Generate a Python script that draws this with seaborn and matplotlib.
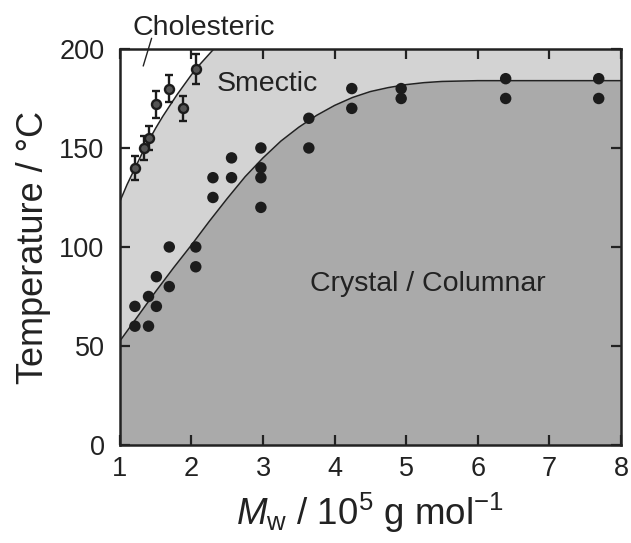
import matplotlib
matplotlib.use("Agg")
import matplotlib.pyplot as plt
import pandas as pd
import seaborn as sns

# crystal/columnar -> smectic transition points (filled dots)
mw_dots = [1.21, 1.21, 1.40, 1.40, 1.51, 1.51, 1.69, 1.69, 2.06, 2.06,
           2.30, 2.30, 2.56, 2.56, 2.97, 2.97, 2.97, 2.97, 3.64, 3.64,
           4.24, 4.24, 4.93, 4.93, 6.39, 6.39, 7.69, 7.69]
t_dots = [60, 70, 60, 75, 70, 85, 80, 100, 90, 100,
          125, 135, 135, 145, 120, 135, 140, 150, 150, 165,
          170, 180, 175, 180, 175, 185, 175, 185]

# smectic -> cholesteric transition points (with error bars)
mw_chol = [1.21, 1.34, 1.40, 1.51, 1.68, 1.88, 2.07]
t_chol = [140, 150, 155, 172, 180, 170, 190]
t_chol_err = [6, 6, 6, 7, 7, 6.5, 7.5]

# phase boundaries
mw_cryst_line = [1.0, 1.25, 1.5, 1.75, 2.0, 2.25, 2.5, 2.75, 3.0, 3.25, 3.5,
                 3.75, 4.0, 4.25, 4.5, 4.75, 5.0, 5.25, 5.5, 6.0, 7.0, 8.0]
t_cryst_line = [52.5, 65, 77.5, 89.5, 101, 113, 124.5, 135.5, 145, 153.5, 160.5,
                166.5, 171.5, 175.5, 178.5, 180.5, 182, 183, 183.6, 184, 184, 184]
mw_chol_line = [1.0, 1.1, 1.2, 1.3, 1.4, 1.5, 1.6, 1.7, 1.8, 1.9, 2.0, 2.1, 2.2, 2.3, 2.4]
t_chol_line = [123, 131.5, 139, 146.5, 153.5, 160, 166, 171.5, 177, 182, 187, 191.5, 195.5, 199.5, 203]


def main() -> None:
    sns.set_theme(style="ticks")
    plt.rcParams["font.family"] = ["Liberation Sans", "DejaVu Sans"]
    plt.rcParams["mathtext.fontset"] = "custom"
    plt.rcParams["mathtext.rm"] = "Liberation Sans"
    plt.rcParams["mathtext.it"] = "Liberation Sans:italic"

    dots = pd.DataFrame({"mw": mw_dots, "t": t_dots})
    cryst = pd.DataFrame({"mw": mw_cryst_line, "t": t_cryst_line})
    chol = pd.DataFrame({"mw": mw_chol_line, "t": t_chol_line})

    fig = plt.figure(figsize=(6.31, 5.43), dpi=100)
    ax = fig.add_axes([0.190, 0.1805, 0.794, 0.7293])
    ax.set_axisbelow(False)

    # phase regions
    ax.set_facecolor("#d3d3d3")
    ax.fill_between(chol["mw"], chol["t"], 260, color="white", lw=0, zorder=0.5)
    ax.fill_between(cryst["mw"], -10, cryst["t"], color="#aaaaaa", lw=0, zorder=0.6)

    sns.lineplot(data=cryst, x="mw", y="t", color="#222222", lw=1.1,
                 sort=False, estimator=None, ax=ax, zorder=2)
    sns.lineplot(data=chol, x="mw", y="t", color="#222222", lw=1.1,
                 sort=False, estimator=None, ax=ax, zorder=2)

    sns.scatterplot(data=dots, x="mw", y="t", color="#1c1c1c", s=68,
                    edgecolor="none", ax=ax, zorder=3)

    ax.errorbar(mw_chol, t_chol, yerr=t_chol_err, fmt="o", ms=6.5,
                mfc="#555555", mec="#1c1c1c", mew=1.7, ecolor="#1c1c1c",
                elinewidth=1.7, capsize=3.2, capthick=1.7, zorder=4)

    ax.text(1.17, 207, "Cholesteric", fontsize=20.5, color="#222222",
            ha="left", va="baseline", clip_on=False)
    ax.plot([1.443, 1.326], [205.4, 191.4], color="#222222", lw=1.0, clip_on=False)
    ax.text(2.35, 179, "Smectic", fontsize=20.5, color="#222222",
            ha="left", va="baseline")
    ax.text(3.65, 78, "Crystal / Columnar", fontsize=20.5, color="#222222",
            ha="left", va="baseline")

    ax.set_xlim(1, 8)
    ax.set_ylim(0, 200)
    ax.set_xticks(range(1, 9))
    ax.set_yticks([0, 50, 100, 150, 200])
    ax.tick_params(direction="in", length=7.5, width=1.6, top=True, right=True,
                   labelsize=19.5, colors="#222222")
    ax.tick_params(axis="x", pad=8)
    ax.tick_params(axis="y", pad=11)
    for sp in ax.spines.values():
        sp.set_linewidth(1.8)
        sp.set_color("#222222")
        sp.set_zorder(5)

    ax.set_xlabel(r"$M_\mathrm{w}$ / 10$^5$ g mol$^{\mathrm{-1}}$", fontsize=26.5,
                  color="#222222", labelpad=6)
    ax.set_ylabel("Temperature / \u00b0C", fontsize=26, color="#222222", labelpad=6)

    fig.savefig("out.png", dpi=100)
    plt.close(fig)


if __name__ == "__main__":
    main()
